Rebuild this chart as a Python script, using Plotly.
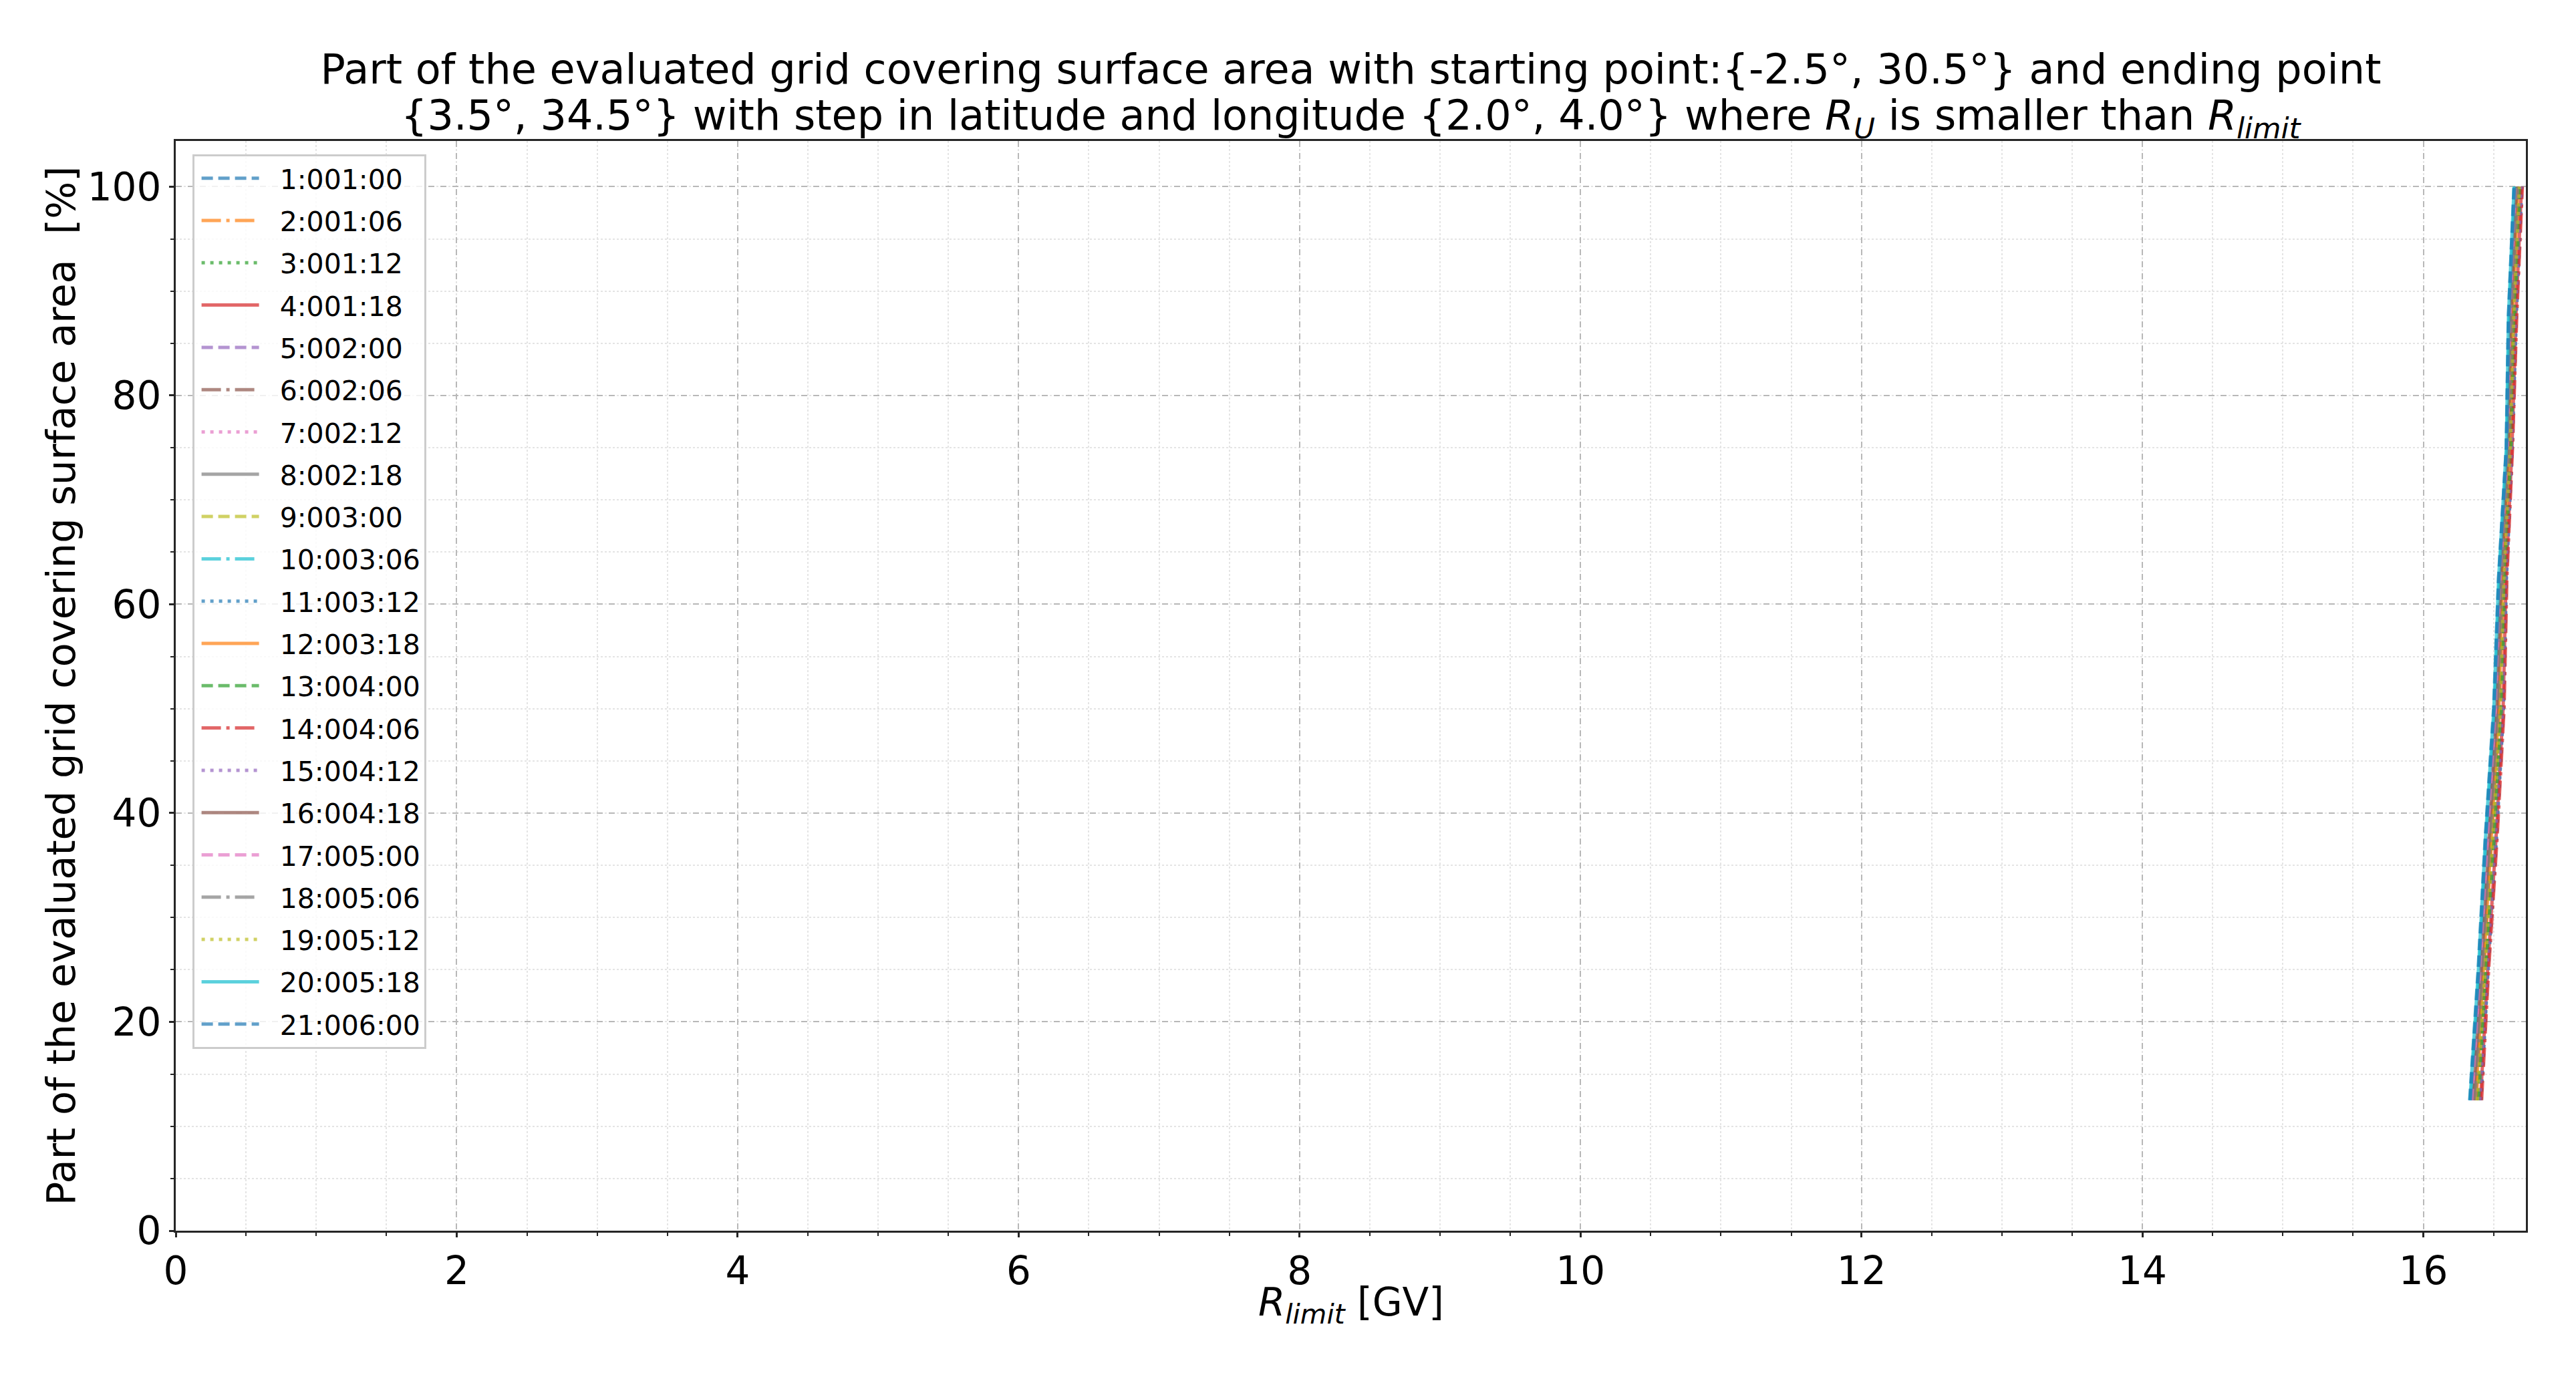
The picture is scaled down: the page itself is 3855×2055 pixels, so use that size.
import plotly.graph_objects as go

# ---------------- data ----------------
labels = ["1:001:00", "2:001:06", "3:001:12", "4:001:18", "5:002:00", "6:002:06",
          "7:002:12", "8:002:18", "9:003:00", "10:003:06", "11:003:12", "12:003:18",
          "13:004:00", "14:004:06", "15:004:12", "16:004:18", "17:005:00", "18:005:06",
          "19:005:12", "20:005:18", "21:006:00"]

percent = [12.5, 25.0, 37.5, 50.0, 62.5, 75.0, 87.5, 100.0]

r_01 = [16.330, 16.390, 16.440, 16.500, 16.535, 16.590, 16.605, 16.645]
r_02 = [16.377, 16.431, 16.487, 16.541, 16.568, 16.615, 16.638, 16.678]
r_03 = [16.390, 16.443, 16.500, 16.553, 16.577, 16.622, 16.647, 16.687]
r_04 = [16.407, 16.458, 16.517, 16.568, 16.589, 16.631, 16.659, 16.699]
r_05 = [16.398, 16.450, 16.508, 16.560, 16.583, 16.626, 16.653, 16.693]
r_06 = [16.360, 16.416, 16.470, 16.526, 16.556, 16.606, 16.626, 16.666]
r_07 = [16.351, 16.409, 16.461, 16.519, 16.550, 16.601, 16.620, 16.660]
r_08 = [16.364, 16.420, 16.474, 16.530, 16.559, 16.608, 16.629, 16.669]
r_09 = [16.381, 16.435, 16.491, 16.545, 16.571, 16.617, 16.641, 16.681]
r_10 = [16.339, 16.398, 16.449, 16.508, 16.541, 16.595, 16.611, 16.651]
r_11 = [16.411, 16.461, 16.521, 16.571, 16.592, 16.633, 16.662, 16.702]
r_12 = [16.373, 16.428, 16.483, 16.538, 16.565, 16.613, 16.635, 16.675]
r_13 = [16.394, 16.446, 16.504, 16.556, 16.580, 16.624, 16.650, 16.690]
r_14 = [16.415, 16.465, 16.525, 16.575, 16.595, 16.635, 16.665, 16.705]
r_15 = [16.402, 16.454, 16.512, 16.564, 16.586, 16.628, 16.656, 16.696]
r_16 = [16.356, 16.413, 16.466, 16.523, 16.553, 16.604, 16.623, 16.663]
r_17 = [16.347, 16.405, 16.457, 16.515, 16.547, 16.599, 16.617, 16.657]
r_18 = [16.368, 16.424, 16.478, 16.534, 16.562, 16.610, 16.632, 16.672]
r_19 = [16.385, 16.439, 16.495, 16.549, 16.574, 16.619, 16.644, 16.684]
r_20 = [16.332, 16.392, 16.442, 16.502, 16.536, 16.591, 16.606, 16.646]
r_21 = [16.334, 16.394, 16.444, 16.504, 16.538, 16.592, 16.608, 16.648]

series = [r_01, r_02, r_03, r_04, r_05, r_06, r_07, r_08, r_09, r_10, r_11,
          r_12, r_13, r_14, r_15, r_16, r_17, r_18, r_19, r_20, r_21]

x_ticks = [0, 2, 4, 6, 8, 10, 12, 14, 16]
y_ticks = [0, 20, 40, 60, 80, 100]

title_line1 = "Part of the evaluated grid covering surface area with starting point:{-2.5°, 30.5°} and ending point"
title_line2 = ("{3.5°, 34.5°} with step in latitude and longitude {2.0°, 4.0°} where "
               "<i>R</i><sub><i>U</i></sub> is smaller than <i>R</i><sub><i>limit</i></sub>")

# ---------------- style ----------------
tab10 = ['#1f77b4', '#ff7f0e', '#2ca02c', '#d62728', '#9467bd',
         '#8c564b', '#e377c2', '#7f7f7f', '#bcbd22', '#17becf']
dashes = ["17px,8px", "29px,8px,5px,8px", "5px,8px", "solid"]
FONT = "DejaVu Sans, Verdana, sans-serif"
NBSP = "\u00a0\u00a0"

fig = go.Figure()
for i, (name, xs) in enumerate(zip(labels, series)):
    fig.add_trace(go.Scatter(
        x=xs, y=percent, mode="lines", name=NBSP + name,
        legendgroup=name,
        opacity=0.7,
        line=dict(color=tab10[i % 10], width=5, dash=dashes[i % 4]),
    ))

fig.update_layout(
    width=3855, height=2055,
    margin=dict(l=263, r=75, t=211, b=213),
    paper_bgcolor="white", plot_bgcolor="white",
    font=dict(family=FONT, color="black", size=58),
    title=dict(text=title_line1, x=0.5, xref="paper", xanchor="center",
               y=1 - 103.0 / 2055, yref="container", yanchor="middle",
               font=dict(size=62, family=FONT, color="black")),
    legend=dict(x=0.007, y=0.988, xanchor="left", yanchor="top",
                bgcolor="rgba(255,255,255,0.8)", bordercolor="#cccccc", borderwidth=3,
                font=dict(size=41, family=FONT, color="black"),
                tracegroupgap=7, traceorder="grouped", itemwidth=86,
                indentation=6),
    showlegend=True,
    annotations=[
        dict(text=title_line2, x=0.5, xref="paper", xanchor="center",
             y=(1842 - 176) / 1631, yref="paper", yanchor="middle",
             showarrow=False, font=dict(size=62, family=FONT, color="black")),
        dict(text="<i>R</i><sub><i>limit</i></sub> [GV]",
             x=0.5, xref="paper", xanchor="center",
             y=(1842 - 1953) / 1631, yref="paper", yanchor="middle",
             showarrow=False, font=dict(size=58, family=FONT, color="black")),
    ],
)

fig.update_xaxes(
    range=[0, 16.73], tickmode="array", tickvals=x_ticks,
    ticks="outside", ticklen=7, tickwidth=3, tickcolor="#262626",
    tickfont=dict(size=58, family=FONT, color="black"),
    showline=True, linecolor="#262626", linewidth=3, mirror=True,
    showgrid=True, gridcolor="#b8b8b8", gridwidth=2, griddash="dash",
    zeroline=False,
    minor=dict(dtick=0.5, ticks="outside", ticklen=5, tickwidth=2, tickcolor="#262626",
               showgrid=True, gridcolor="#e4e4e4", gridwidth=2, griddash="dot"),
)

fig.update_yaxes(
    range=[0, 104.375], tickmode="array", tickvals=y_ticks,
    ticks="outside", ticklen=7, tickwidth=3, tickcolor="#262626",
    tickfont=dict(size=58, family=FONT, color="black"),
    showline=True, linecolor="#262626", linewidth=3, mirror=True,
    showgrid=True, gridcolor="#b8b8b8", gridwidth=2, griddash="dash",
    zeroline=False,
    minor=dict(dtick=5, ticks="outside", ticklen=5, tickwidth=2, tickcolor="#262626",
               showgrid=True, gridcolor="#e4e4e4", gridwidth=2, griddash="dot"),
    title=dict(text="Part of the evaluated grid covering surface area  [%]", standoff=0,
               font=dict(size=59, family=FONT, color="black")),
)

fig.write_html("out.html")
